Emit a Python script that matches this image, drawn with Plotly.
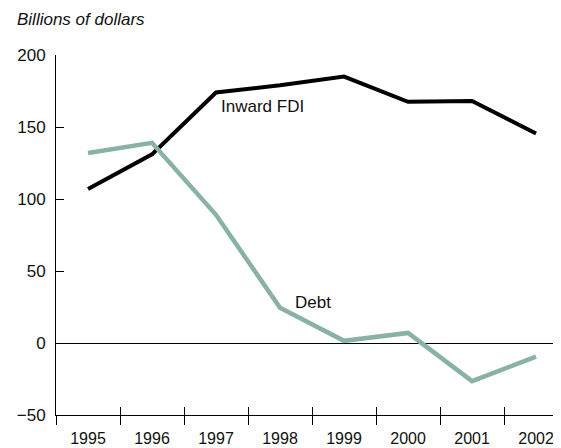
import plotly.graph_objects as go

years = [1995, 1996, 1997, 1998, 1999, 2000, 2001, 2002]
year_labels = [str(y) for y in years]
inward_fdi = [107, 131, 174, 179, 185, 167.5, 168, 145.5]
debt = [132, 139, 89, 24.5, 1.5, 7, -26.5, -9.5]
y_ticks = [-50, 0, 50, 100, 150, 200]
boundaries = [y - 0.5 for y in years]

FONT = "Liberation Sans, Arial, Helvetica, sans-serif"
W, H = 553, 440  # page body has an 8px margin
fig = go.Figure()
fig.add_trace(go.Scatter(x=years, y=inward_fdi, mode="lines",
                         line=dict(color="#000000", width=4),
                         showlegend=False, hoverinfo="skip"))
fig.add_trace(go.Scatter(x=years, y=debt, mode="lines",
                         line=dict(color="#89b2a5", width=4.5),
                         showlegend=False, hoverinfo="skip"))
# dummy trace to activate the overlaying axis (inside tick halves)
fig.add_trace(go.Scatter(x=[years[0]], y=[None], xaxis="x2", mode="lines",
                         showlegend=False, hoverinfo="skip"))

fig.add_annotation(x=1997.05, y=164, text="Inward FDI", showarrow=False,
                   xanchor="left", yanchor="middle",
                   font=dict(family=FONT, size=17, color="#111"))
fig.add_annotation(x=1998.2, y=28, text="Debt", showarrow=False,
                   xanchor="left", yanchor="middle",
                   font=dict(family=FONT, size=17, color="#111"))

fig.update_layout(
    width=W, height=H,
    margin=dict(l=48, r=0, t=47, b=33, autoexpand=False),
    paper_bgcolor="white", plot_bgcolor="white",
    font=dict(family=FONT, size=17, color="#111"),
    title=dict(text="<i>Billions of dollars</i>", xref="container", yref="container",
               x=9 / W, y=1 - 11 / H, xanchor="left", yanchor="middle",
               font=dict(family=FONT, size=17, color="#111")),
    xaxis=dict(range=[1994.5, 2002.39], tickmode="array", tickvals=years,
               ticktext=year_labels, ticks="", showline=True, linecolor="#000",
               linewidth=1, showgrid=False, zeroline=False, ticklabelstandoff=9,
               tickfont=dict(family=FONT, size=16, color="#111"),
               minor=dict(tickmode="array", tickvals=boundaries, ticks="outside",
                          ticklen=9, tickwidth=1, tickcolor="#000", showgrid=False)),
    xaxis2=dict(overlaying="x", matches="x", anchor="y", side="bottom",
                tickmode="array", tickvals=boundaries, ticks="inside", ticklen=8,
                tickwidth=1, tickcolor="#000", showticklabels=False,
                showline=False, showgrid=False, zeroline=False),
    yaxis=dict(range=[-50, 200], tickmode="array", tickvals=y_ticks,
               ticks="inside", ticklen=8, tickwidth=1, tickcolor="#000",
               showline=True, linecolor="#000", linewidth=1, showgrid=False,
               zeroline=True, zerolinecolor="#000", zerolinewidth=1,
               ticklabelstandoff=6),
)
fig.write_html("out.html")
